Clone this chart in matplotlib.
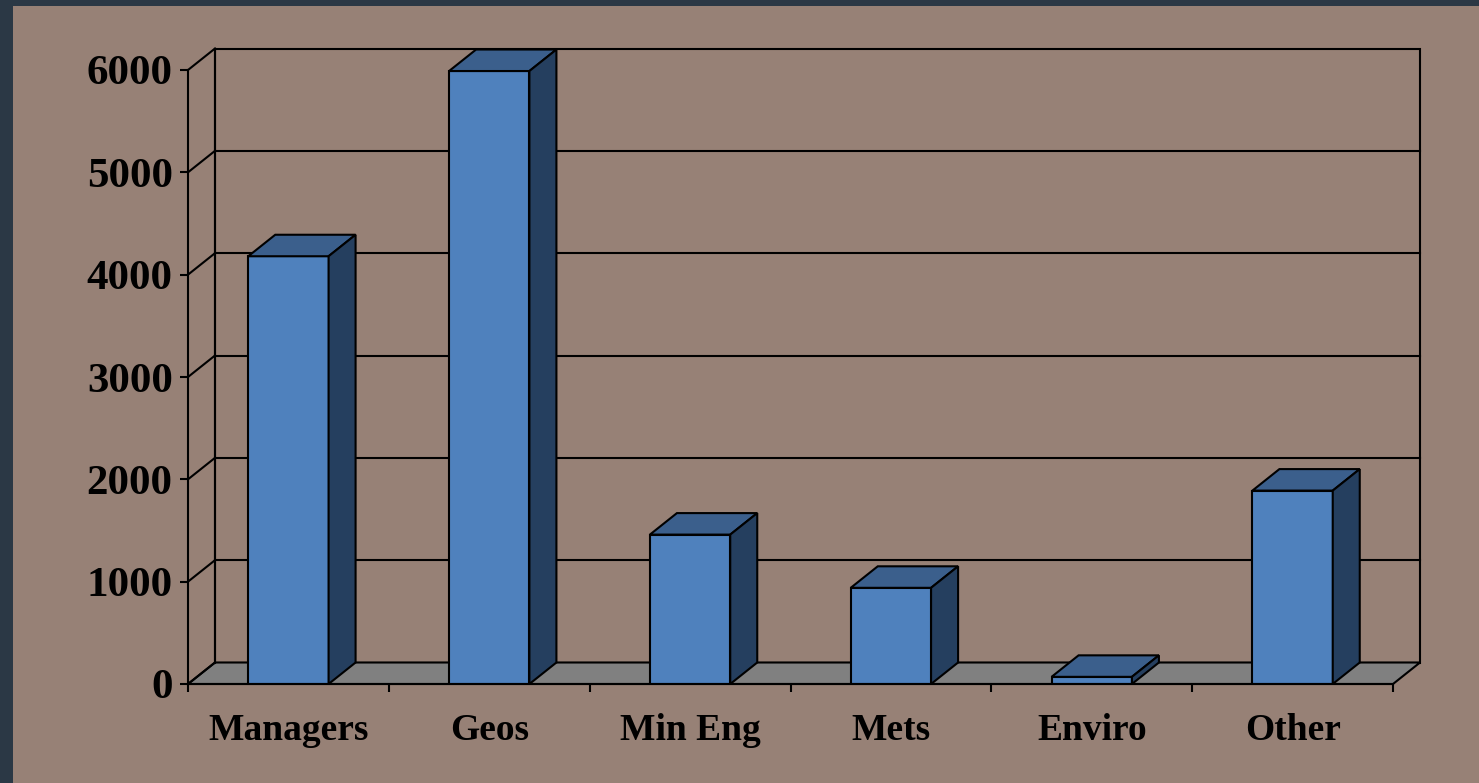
import matplotlib.pyplot as plt
from matplotlib.patches import Polygon, Rectangle
from matplotlib.ticker import FixedLocator

# Staff numbers by discipline
categories = ["Managers", "Geos", "Min Eng", "Mets", "Enviro", "Other"]
staff = [4180, 5990, 1460, 940, 70, 1890]
y_ticks = [0, 1000, 2000, 3000, 4000, 5000, 6000]

bg = "#978176"
frame = "#2b3845"
front_col = "#4f81bd"
top_col = "#3b5f8c"
side_col = "#253f5f"
floor_col = "#808080"
lw = 1.5

fig = plt.figure(figsize=(14.79, 7.83), dpi=100)
fig.patch.set_facecolor(frame)
fig.add_artist(Rectangle((13 / 1479, 0), 1, 1 - 6 / 783, transform=fig.transFigure,
                         facecolor=bg, edgecolor="none", zorder=-10))

left, right, top, bottom = 188, 1393, 70, 684
ax = fig.add_axes([left / 1479, 1 - bottom / 783, (right - left) / 1479, (bottom - top) / 783])
ax.set_facecolor("none")
n = len(categories)
ymax = y_ticks[-1]
ax.set_xlim(0, n)
ax.set_ylim(0, ymax)

# depth offset of the 3-D look, in data units
dx = 27 / ((right - left) / n)
dy = 21.5 / ((bottom - top) / ymax)

# back wall, left wall gridlines and floor
ax.add_patch(Rectangle((dx, dy), n, ymax, facecolor="none", edgecolor="black", lw=lw, clip_on=False))
for t in y_ticks[1:-1]:
    ax.plot([dx, n + dx], [t + dy, t + dy], color="black", lw=lw, clip_on=False)
for t in y_ticks:
    ax.plot([0, dx], [t, t + dy], color="black", lw=lw, clip_on=False)
ax.plot([dx, dx], [dy, ymax + dy], color="black", lw=lw, clip_on=False)
ax.add_patch(Polygon([(0, 0), (n, 0), (n + dx, dy), (dx, dy)], closed=True,
                     facecolor=floor_col, edgecolor="black", lw=lw, clip_on=False))

# bars: front face, top and right side
w = 0.4
for i, v in enumerate(staff):
    x0 = i + 0.5 - w / 2
    x1 = x0 + w
    ax.bar(i + 0.5, v, width=w, color=front_col, edgecolor="black", lw=lw, zorder=3)
    ax.add_patch(Polygon([(x0, v), (x1, v), (x1 + dx, v + dy), (x0 + dx, v + dy)], closed=True,
                         facecolor=top_col, edgecolor="black", lw=lw, zorder=3, clip_on=False))
    ax.add_patch(Polygon([(x1, 0), (x1, v), (x1 + dx, v + dy), (x1 + dx, dy)], closed=True,
                         facecolor=side_col, edgecolor="black", lw=lw, zorder=3, clip_on=False))

for s in ["top", "right"]:
    ax.spines[s].set_visible(False)
for s in ["left", "bottom"]:
    ax.spines[s].set_linewidth(lw)
    ax.spines[s].set_zorder(4)

font = dict(family="Liberation Serif", weight="bold")
ax.set_yticks(y_ticks)
ax.set_yticklabels([str(t) for t in y_ticks], fontsize=31, **font)
ax.tick_params(axis="y", direction="out", length=6, width=lw, pad=5)

ax.xaxis.set_major_locator(FixedLocator(list(range(n + 1))))
ax.xaxis.set_minor_locator(FixedLocator([i + 0.5 for i in range(n)]))
ax.set_xticklabels([], minor=False)
ax.set_xticklabels(categories, minor=True, fontsize=27, **font)
ax.tick_params(axis="x", which="major", direction="out", length=6, width=lw)
ax.tick_params(axis="x", which="minor", length=0, pad=21)

fig.savefig("out.png", dpi=100, facecolor=fig.get_facecolor())
